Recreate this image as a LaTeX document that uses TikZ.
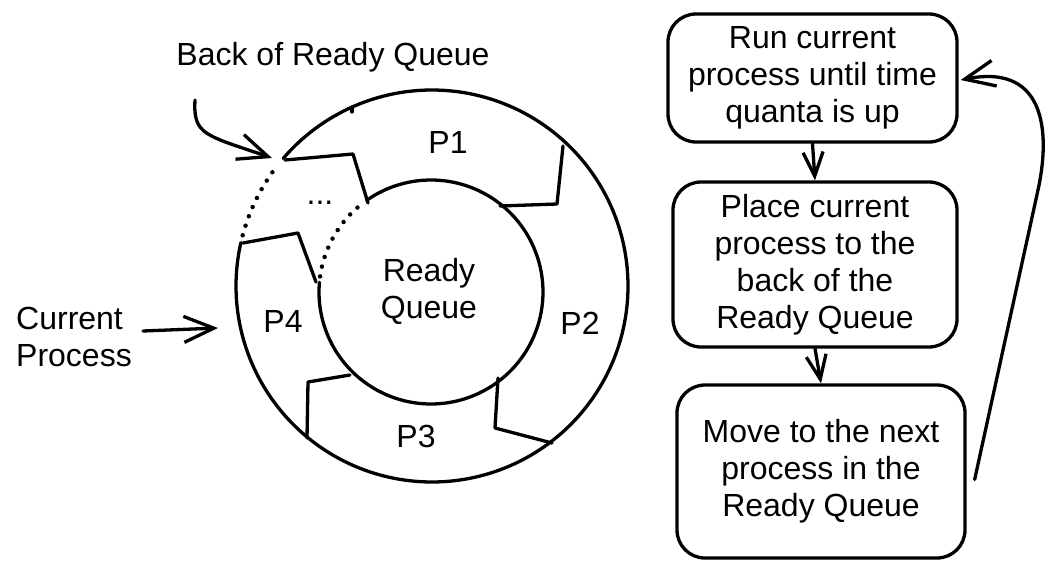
\documentclass[tikz,border=0pt]{standalone}
\usepackage{fontspec}
\setmainfont{Liberation Sans}
\usetikzlibrary{arrows.meta,calc}
\begin{document}
\begin{tikzpicture}[x=1pt,y=-1pt,
  ln/.style={line width=3.3pt,line cap=round,line join=round},
  lbl/.style={font=\fontsize{32}{37}\selectfont, inner sep=0pt, align=center},
  box/.style={draw, ln, rounded corners=28pt, align=center, font=\fontsize{32}{37}\selectfont, inner sep=0pt},
  arrL/.style={ln, -{Straight Barb[length=30pt,width=26pt]}},
  arrS/.style={ln, -{Straight Barb[length=24pt,width=20pt]}},
  dots/.style={line width=4.5pt, line cap=round, dash pattern=on 0pt off 10pt}]
\useasboundingbox (0,0) rectangle (1061,573);

% ring: outer and inner circles (drawn parts)
\draw[ln] plot[domain=220.6:552.8, samples=120, smooth] ({432+196*cos(\x)},{286+196*sin(\x)});
\draw[ln] plot[domain=235:545, samples=120, smooth] ({431+112*cos(\x)},{292+112*sin(\x)});
% dotted parts
\draw[dots] plot[domain=195:218, samples=20, smooth] ({432+196*cos(\x)},{286+196*sin(\x)});
\draw[dots] plot[domain=188:233, samples=20, smooth] ({431+112*cos(\x)},{292+112*sin(\x)});
% dividers
\draw[ln] (285,160) -- (353,154) -- (368,203);
\draw[ln] (563,146) -- (557,204) -- (500,206);
\draw[ln] (498,378) -- (495,428) -- (552,443);
\draw[ln] (350,375) -- (308,382) -- (307,438);
\draw[ln] (243,243) -- (298,233) -- (316,282);
\draw[ln] (352,107) -- (352,112);

% ring labels
\node[lbl] (p1) at (448,142) {P1};
\node[lbl] (p2) at (580,323) {P2};
\node[lbl] (p3) at (416,436) {P3};
\node[lbl] (p4) at (283,321) {P4};
\node[lbl] (rq) at (429,291) {Ready\\Queue};
\node[lbl] (dd) at (320,203) {...};

% left labels and arrows
\node[lbl] (back) at (333,57) {Back of Ready Queue};
\coordinate (bs) at (195,100);
\coordinate (be) at (272,158);
\draw[arrL] (bs) .. controls (193,135) and (205,135) .. (be);

\node[lbl, anchor=west, align=left] (cur) at (16,337) {Current\\Process};
\coordinate (cs) at (143,331);
\coordinate (ce) at (218,328);
\draw[arrL] (cs) -- (ce);

% flow boxes
\node[box, minimum width=289pt, minimum height=128pt] (b1) at (812.5,78) {Run current\\process until time\\quanta is up};
\node[box, minimum width=284pt, minimum height=165pt] (b2) at (815,264.5) {Place current\\process to the\\back of the\\Ready Queue};
\node[box, minimum width=288pt, minimum height=173pt] (b3) at (821,471.5) {Move to the next\\process in the\\Ready Queue};

\draw[arrS] (b1.south) -- (b2.north);
\draw[arrS] (b2.south) -- (b3.north);

\coordinate (ls) at ($(b3.east)+(8,8)$);
\coordinate (le) at ($(b1.east)+(2,2)$);
\draw[arrL] (ls) -- (1038,190) .. controls (1049,140) and (1050,62) .. (le);
\end{tikzpicture}
\end{document}
